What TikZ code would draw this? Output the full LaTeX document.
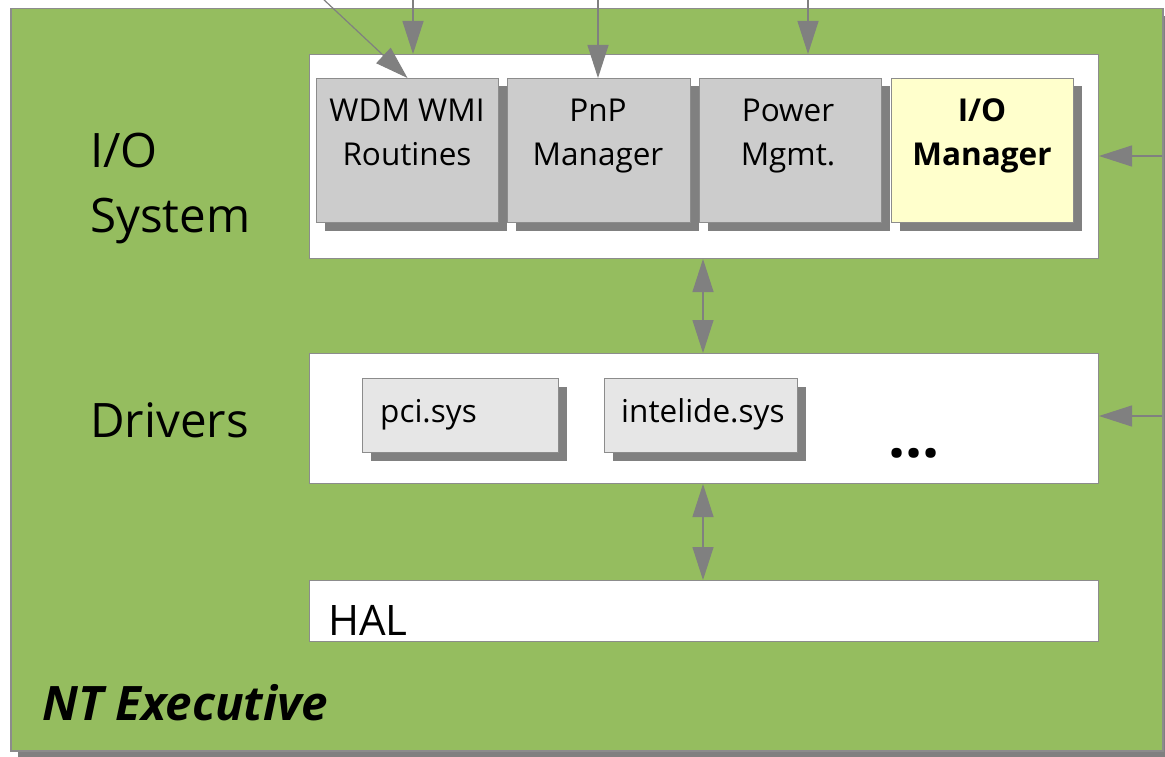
\documentclass[tikz,border=0pt]{standalone}
\usepackage{fontspec}
\setmainfont{Open Sans}
\usetikzlibrary{shadows,arrows.meta}

\definecolor{exgreen}{RGB}{149,189,95}
\definecolor{edgegray}{RGB}{140,140,140}
\definecolor{shade}{RGB}{128,128,128}
\definecolor{mgrfill}{RGB}{204,204,204}
\definecolor{drvfill}{RGB}{230,230,230}
\definecolor{iofill}{RGB}{255,255,204}

\tikzset{
  panel/.style={draw=edgegray, line width=1pt, inner sep=0pt, anchor=north west},
  outerpanel/.style={panel, fill=exgreen, line width=1.5pt,
    general shadow={fill=shade, shadow xshift=7pt, shadow yshift=-7pt}},
  layer/.style={panel, fill=white},
  unit/.style={panel, fill=mgrfill,
    general shadow={fill=shade, shadow xshift=8pt, shadow yshift=-8pt}},
  drvbox/.style={unit, fill=drvfill},
  iobox/.style={unit, fill=iofill},
  unittext/.style={font=\fontsize{31.5}{44}\selectfont, align=center, inner sep=0pt, anchor=base},
  sidetext/.style={font=\fontsize{47.5}{65}\selectfont, align=left, inner sep=0pt, anchor=base west},
  flow/.style={draw=shade, line width=1.2pt, -{Triangle[length=33pt,width=21pt]}},
  twoway/.style={draw=shade, line width=1.2pt, {Triangle[length=33pt,width=21pt]}-{Triangle[length=33pt,width=21pt]}},
}

\begin{document}
\begin{tikzpicture}[x=1pt, y=-1pt]
  \useasboundingbox (0,0) rectangle (1165,757);

  % NT Executive frame
  \node[outerpanel, minimum width=1152pt, minimum height=742pt] (ntx) at (10,8) {};

  % layers
  \node[layer, minimum width=789pt, minimum height=204pt] (iosys) at (309,54) {};
  \node[layer, minimum width=789pt, minimum height=130pt] (drv) at (309,353) {};
  \node[layer, minimum width=789pt, minimum height=61pt] (hal) at (309,580) {};

  % I/O system components
  \node[unit, minimum width=182pt, minimum height=144pt] (wdm) at (316,78) {};
  \node[unit, minimum width=183pt, minimum height=144pt] (pnp) at (507,78) {};
  \node[unit, minimum width=182pt, minimum height=144pt] (pwr) at (699,78) {};
  \node[iobox, minimum width=182pt, minimum height=144pt] (iom) at (891,78) {};

  % (base anchor of a two-line node sits on its last line)
  \node[unittext] (wdm-t) at (407,166) {WDM WMI\\Routines};
  \node[unittext] (pnp-t) at (598,166) {PnP\\Manager};
  \node[unittext] (pwr-t) at (788,166) {Power\\Mgmt.};
  \node[unittext, font=\fontsize{31.5}{44}\selectfont\bfseries] (iom-t) at (982,166) {I/O\\Manager};

  % drivers
  \node[drvbox, minimum width=196pt, minimum height=74pt] (pci) at (362,378) {};
  \node[drvbox, minimum width=193pt, minimum height=74pt] (ide) at (604,378) {};
  \node[font=\fontsize{31.5}{44}\selectfont, inner sep=0pt, anchor=base west] (pci-t) at (380,422) {pci.sys};
  \node[font=\fontsize{31.5}{44}\selectfont, inner sep=0pt, anchor=base west] (ide-t) at (621,422) {intelide.sys};
  \node[font=\fontsize{60}{70}\selectfont\bfseries, inner sep=0pt, anchor=base west] (more) at (888,457) {...};

  % HAL
  \node[font=\fontsize{42}{50}\selectfont, inner sep=0pt, anchor=base west] (hal-t) at (328,635) {HAL};

  % side captions
  \node[sidetext] (io-cap) at (90,232) {I/O\\System};
  \node[sidetext] (drv-cap) at (90,437) {Drivers};
  \node[font=\fontsize{47.5}{55}\selectfont\bfseries\itshape, inner sep=0pt, anchor=base west] (ntx-cap) at (42,720) {NT Executive};

  % incoming calls from above
  \coordinate (in1) at (322,-2);
  \coordinate (in2) at (413,-2);
  \coordinate (in3) at (598,-2);
  \coordinate (in4) at (808,-2);
  \draw[flow] (in1) -- (wdm.north);
  \draw[flow] (in2) -- (in2 |- iosys.north);
  \draw[flow] (in3) -- (in3 |- pnp.north);
  \draw[flow] (in4) -- (in4 |- iosys.north);

  % incoming calls from the right edge
  \coordinate (r1) at (1162,156);
  \coordinate (r2) at (1162,416);
  \draw[flow] (r1) -- (r1 -| iosys.east);
  \draw[flow] (r2) -- (r2 -| drv.east);

  % links between layers
  \coordinate (spine) at (703,300);
  \draw[twoway] (spine |- iosys.south) -- (spine |- drv.north);
  \draw[twoway] (spine |- drv.south) -- (spine |- hal.north);
\end{tikzpicture}
\end{document}
